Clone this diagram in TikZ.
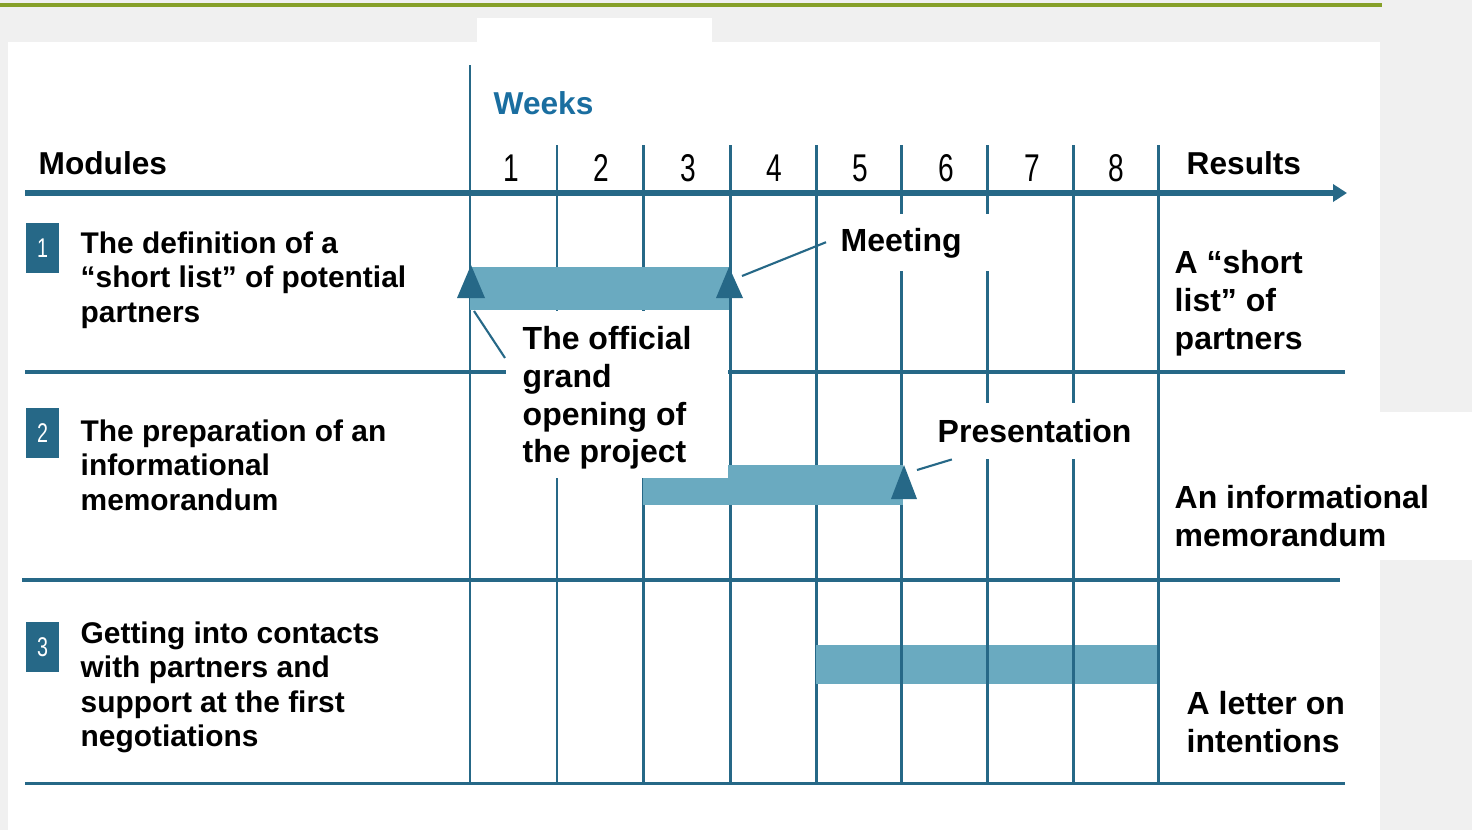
\documentclass[tikz,border=0pt]{standalone}
\usepackage{fontspec}
\usepackage{graphicx}
\setmainfont{Liberation Sans}
\usetikzlibrary{arrows.meta}
\definecolor{gridblue}{RGB}{38,104,135}
\definecolor{barblue}{RGB}{106,170,192}
\definecolor{weekblue}{RGB}{26,110,160}
\definecolor{topgreen}{RGB}{134,160,40}
\definecolor{paper}{RGB}{240,240,240}
\newcommand{\modfont}{\fontsize{8.5}{9.8}\selectfont\bfseries}
\newcommand{\resfont}{\fontsize{9.1}{10.7}\selectfont\bfseries}
\newcommand{\headfont}{\fontsize{9}{10}\selectfont\bfseries}
\newcommand{\narrow}[1]{\scalebox{0.8}[1.1]{#1}}

\begin{document}
\begin{tikzpicture}[x=0.01cm, y=-0.01cm,
	grid/.style={gridblue, line width=0.85pt},
	rowsep/.style={gridblue, line width=1.1pt},
	bar/.style={fill=barblue},
	mask/.style={fill=white, inner sep=0pt, anchor=north west},
	leader/.style={gridblue, line width=0.6pt},
	headtext/.style={anchor=west, inner sep=0pt, font=\headfont},
	modtext/.style={anchor=north west, inner sep=0pt, align=left, font=\modfont},
	restext/.style={anchor=north west, inner sep=0pt, align=left, font=\resfont},
	numbox/.style={fill=gridblue, text=white, minimum width=0.33cm, minimum height=0.5cm, inner sep=0pt, font=\fontsize{7}{8}\selectfont},
	weeknum/.style={inner sep=0pt, font=\fontsize{10}{11}\selectfont}]
	\useasboundingbox (0,0) rectangle (1472,830);
	% background
	\fill[paper] (0,0) rectangle (1472,830);
	\fill[white] (8,42) rectangle (1380,830);
	\fill[white] (477,18) rectangle (712,42);
	\fill[white] (1158,412) rectangle (1472,560);
	\draw[topgreen, line width=1pt] (0,5) -- (1382,5);
	% grid
	\draw[grid] (470,65) -- (470,783);
	\foreach \x in {557,643,730,816,901,987,1073,1158}
		\draw[grid] (\x,145) -- (\x,783);
	\draw[gridblue, line width=1.9pt, -{Triangle[length=0.14cm,width=0.17cm]}] (25,193) -- (1347,193);
	\draw[rowsep] (25,372) -- (1345,372);
	\draw[rowsep] (22,580) -- (1340,580);
	\draw[grid] (25,783) -- (1345,783);
	% bars
	\fill[bar] (470,267) rectangle (729,310);
	\fill[bar] (643,465) rectangle (903,505);
	\fill[bar] (816,645) rectangle (1157,684);
	\foreach \x in {901,987,1073}
		\draw[grid] (\x,645) -- (\x,684);
	% milestones
	\fill[gridblue] (457,298) -- (471,265) -- (485,298) -- cycle;
	\fill[gridblue] (716,298) -- (729,267) -- (743,298) -- cycle;
	\fill[gridblue] (891,499) -- (904,465) -- (917,499) -- cycle;
	\coordinate (ms1) at (474,311);
	\coordinate (ms2) at (742,276);
	\coordinate (ms3) at (917,470);
	% label boxes
	\node[mask, minimum width=2.22cm, minimum height=1.67cm] (openbox) at (505,310) {};
	\node[mask, minimum width=2.45cm, minimum height=0.57cm] (meetbox) at (826,213) {};
	\node[mask, minimum width=2.48cm, minimum height=0.56cm] (presbox) at (906,402) {};
	% headers
	\node[headtext] (modules) at (38,163) {Modules};
	\node[headtext, text=weekblue] (weeks) at (493,103) {Weeks};
	\node[headtext] (results) at (1186,163) {Results};
	\foreach \n/\x in {1/511,2/601,3/688,4/774,5/860,6/946,7/1032,8/1116}
		\node[weeknum] (week\n) at (\x,168) {\narrow{\n}};
	% modules
	\node[numbox] (num1) at (42.5,248) {\narrow{1}};
	\node[modtext] (mod1) at (80,231) {The definition of a\\“short list” of potential\\partners};
	\node[numbox] (num2) at (42.5,433) {\narrow{2}};
	\node[modtext] (mod2) at (80,419) {The preparation of an\\informational\\memorandum};
	\node[numbox] (num3) at (42.5,647) {\narrow{3}};
	\node[modtext] (mod3) at (80,621) {Getting into contacts\\with partners and\\support at the first\\negotiations};
	% results
	\node[restext] (res1) at (1174,250) {A “short\\list” of\\partners};
	\node[restext] (res2) at (1174,485) {An informational\\memorandum};
	\node[restext] (res3) at (1186,691) {A letter on\\intentions};
	% milestone labels
	\node[restext] (opening) at (522,326) {The official\\grand\\opening of\\the project};
	\node[headtext, font=\resfont] (meeting) at (840,243) {Meeting};
	\node[headtext, font=\resfont] (presentation) at (937,431) {Presentation};
	\draw[leader] (ms1) -- (openbox.162);
	\draw[leader] (ms2) -- (meetbox.west);
	\draw[leader] (ms3) -- (presbox.200);
\end{tikzpicture}
\end{document}
